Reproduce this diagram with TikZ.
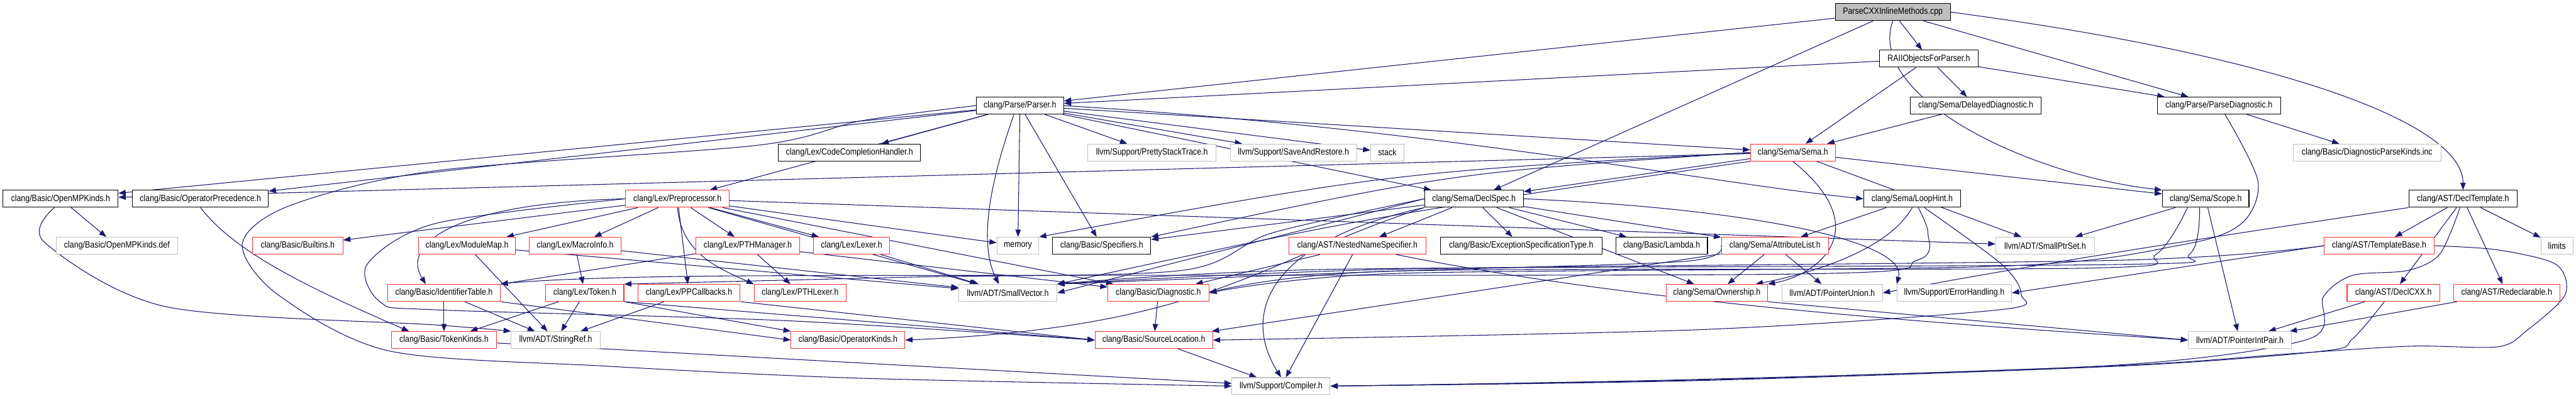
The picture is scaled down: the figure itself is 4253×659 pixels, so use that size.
\documentclass[tikz,border=0pt]{standalone}
\usepackage{fontspec}
\setmainfont{Liberation Sans}[FakeStretch=0.86]
\usetikzlibrary{arrows.meta,backgrounds}
\definecolor{dxblue}{HTML}{191970}
\definecolor{dxred}{HTML}{FF3030}
\definecolor{dxgray}{HTML}{BFBFBF}
\tikzset{
  nb/.style={draw, line width=1.1pt, minimum height=28pt, inner sep=1pt, fill=white, font=\fontsize{15}{18}\selectfont, anchor=center},
  blackbox/.style={nb, draw=black},
  redbox/.style={nb, draw=dxred},
  graybox/.style={nb, draw=dxgray},
  rootbox/.style={nb, draw=black, fill=dxgray},
  e/.style={draw=dxblue, line width=1.1pt, -{Triangle[length=12pt, width=9pt]}},
}
\begin{document}
\begin{tikzpicture}[x=1pt,y=-1pt]
\useasboundingbox (0,0) rectangle (4253,659);
% row 0-2
\node[rootbox, minimum width=190pt] (root) at (3125,20) {ParseCXXInlineMethods.cpp};
\node[blackbox, minimum width=163pt] (raii) at (3184.5,97) {RAIIObjectsForParser.h};
\node[blackbox, minimum width=144pt] (parser) at (1684,174.5) {clang/Parse/Parser.h};
\node[blackbox, minimum width=216pt] (delayed) at (3262,174.5) {clang/Sema/DelayedDiagnostic.h};
\node[blackbox, minimum width=203pt] (parsediag) at (3663.5,174.5) {clang/Parse/ParseDiagnostic.h};
% row 3
\node[blackbox, minimum width=235pt] (cch) at (1402.5,252) {clang/Lex/CodeCompletionHandler.h};
\node[graybox, minimum width=212pt] (pst) at (1902,252) {llvm/Support/PrettyStackTrace.h};
\node[graybox, minimum width=209pt] (sar) at (2135.5,252) {llvm/Support/SaveAndRestore.h};
\node[graybox, minimum width=55pt] (stack) at (2290.5,252) {stack};
\node[redbox, minimum width=140pt] (sema) at (2960,252) {clang/Sema/Sema.h};
\node[graybox, minimum width=244pt] (dpk) at (3908,252) {clang/Basic/DiagnosticParseKinds.inc};
% row 4
\node[blackbox, minimum width=190pt] (omp) at (100,328.5) {clang/Basic/OpenMPKinds.h};
\node[blackbox, minimum width=224pt] (opprec) at (331,328.5) {clang/Basic/OperatorPrecedence.h};
\node[redbox, minimum width=171pt] (pp) at (1118.5,328.5) {clang/Lex/Preprocessor.h};
\node[blackbox, minimum width=163pt] (declspec) at (2433.5,328.5) {clang/Sema/DeclSpec.h};
\node[blackbox, minimum width=160pt] (loophint) at (3157,328.5) {clang/Sema/LoopHint.h};
\node[blackbox, minimum width=143pt] (scope) at (3641.5,328.5) {clang/Sema/Scope.h};
\node[blackbox, minimum width=179pt] (decltempl) at (4066.5,328.5) {clang/AST/DeclTemplate.h};
% row 5
\node[graybox, minimum width=200pt] (ompdef) at (193,406) {clang/Basic/OpenMPKinds.def};
\node[redbox, minimum width=149pt] (builtins) at (491.5,406) {clang/Basic/Builtins.h};
\node[redbox, minimum width=160pt] (modmap) at (771,406) {clang/Lex/ModuleMap.h};
\node[redbox, minimum width=151pt] (macroinfo) at (949.5,406) {clang/Lex/MacroInfo.h};
\node[redbox, minimum width=171pt] (pthmgr) at (1234.5,406) {clang/Lex/PTHManager.h};
\node[redbox, minimum width=126pt] (lexer) at (1406,406) {clang/Lex/Lexer.h};
\node[graybox, minimum width=69pt] (memory) at (1680.5,406) {memory};
\node[blackbox, minimum width=162pt] (specifiers) at (1819,406) {clang/Basic/Specifiers.h};
\node[redbox, minimum width=226pt] (nns) at (2241,406) {clang/AST/NestedNameSpecifier.h};
\node[blackbox, minimum width=267pt] (est) at (2511.5,406) {clang/Basic/ExceptionSpecificationType.h};
\node[blackbox, minimum width=151pt] (lambda) at (2743.5,406) {clang/Basic/Lambda.h};
\node[redbox, minimum width=177pt] (attrlist) at (2930.5,406) {clang/Sema/AttributeList.h};
\node[graybox, minimum width=163pt] (smallptrset) at (3376.5,406) {llvm/ADT/SmallPtrSet.h};
\node[redbox, minimum width=182pt] (templbase) at (3928,406) {clang/AST/TemplateBase.h};
\node[graybox, minimum width=53pt] (limits) at (4221.5,406) {limits};
% row 6
\node[redbox, minimum width=186pt] (identtab) at (733,484) {clang/Basic/IdentifierTable.h};
\node[redbox, minimum width=129pt] (token) at (965.5,484) {clang/Lex/Token.h};
\node[redbox, minimum width=169pt] (ppcb) at (1137.5,484) {clang/Lex/PPCallbacks.h};
\node[redbox, minimum width=152pt] (pthlexer) at (1321,484) {clang/Lex/PTHLexer.h};
\node[graybox, minimum width=162pt] (smallvec) at (1664,484) {llvm/ADT/SmallVector.h};
\node[redbox, minimum width=167pt] (diag) at (1912.5,484) {clang/Basic/Diagnostic.h};
\node[redbox, minimum width=167pt] (ownership) at (2834.5,484) {clang/Sema/Ownership.h};
\node[graybox, minimum width=166pt] (ptrunion) at (3025,484) {llvm/ADT/PointerUnion.h};
\node[graybox, minimum width=189pt] (errh) at (3226.5,484) {llvm/Support/ErrorHandling.h};
\node[redbox, minimum width=153pt] (declcxx) at (3951.5,484) {clang/AST/DeclCXX.h};
\node[redbox, minimum width=175pt] (redecl) at (4138.5,484) {clang/AST/Redeclarable.h};
% row 7-8
\node[redbox, minimum width=174pt] (tokkinds) at (733,562) {clang/Basic/TokenKinds.h};
\node[graybox, minimum width=147pt] (stringref) at (917.5,562) {llvm/ADT/StringRef.h};
\node[redbox, minimum width=188pt] (opkinds) at (1400,562) {clang/Basic/OperatorKinds.h};
\node[redbox, minimum width=194pt] (srcloc) at (1905,562) {clang/Basic/SourceLocation.h};
\node[graybox, minimum width=170pt] (ptrintpair) at (3698,562) {llvm/ADT/PointerIntPair.h};
\node[graybox, minimum width=162pt] (compiler) at (2115,638) {llvm/Support/Compiler.h};

\begin{pgfonlayer}{background}
\fill[white] (0,0) rectangle (4253,659);
% root
\draw[e] (root) -- (parser);
\draw[e] (root) -- (raii);
\draw[e] (root) -- (parsediag);
\draw[e] (root) -- (declspec);
\draw[e] (root.south) .. controls (3080,160) and (3350,290) .. (scope.north west);
\draw[e] (root.east) .. controls (3750,90) and (4066,200) .. (decltempl.north);
% raii
\draw[e] (raii) -- (parser);
\draw[e] (raii) -- (sema);
\draw[e] (raii) -- (delayed);
\draw[e] (raii) -- (parsediag);
\draw[e] (delayed) -- (sema);
% parsediag
\draw[e] (parsediag) -- (dpk);
\draw[e] plot[smooth] coordinates {([xshift=10pt]parsediag.south) (3728,300) (3700,370) (3600,405) (3300,440) (2300,452) (diag.east)};
% parser
\draw[e] (parser) -- (omp);
\draw[e] (parser) -- (opprec);
\draw[e] (parser) -- (cch);
\draw[e] (parser) -- (pp);
\draw[e] ([xshift=-10pt]parser.south) .. controls (1635,300) and (1615,400) .. ([xshift=-15pt]smallvec.north);
\draw[e] (parser) -- (memory);
\draw[e] (parser) -- (specifiers);
\draw[e] (parser) -- (pst);
\draw[e] (parser) -- (sar);
\draw[e] (parser) -- (stack);
\draw[e] (parser) -- (sema);
\draw[e] (parser) -- (declspec);
\draw[e] (parser.east) .. controls (2400,215) and (2800,300) .. (loophint.west);
\draw[e] plot[smooth] coordinates {(parser.west) (1420,200) (1251,240) (720,282) (478,340) (400,403) (459,487) (643,580) (1000,605) (1420,625) (compiler.west)};
% sema
\draw[e] (sema) -- (omp);
\draw[e] (sema.west) .. controls (2300,285) .. (memory.north east);
\draw[e] (sema.west) .. controls (2400,285) .. (specifiers.north east);
\draw[e] (sema) -- (declspec);
\draw[e] (sema) -- (scope);
\draw[e] (sema) -- (smallptrset);
\draw[e] (sema.south west) .. controls (2250,360) .. (smallvec.north east);
\draw[e] (sema.south) .. controls (3100,380) and (3000,455) .. (ownership.north east);
% declspec
\draw[e] (declspec) -- (nns);
\draw[e] (declspec) -- (est);
\draw[e] (declspec) -- (lambda);
\draw[e] (declspec) -- (specifiers);
\draw[e] (declspec) -- (attrlist);
\draw[e] (declspec) -- (ownership);
\draw[e] (declspec.west) -- (smallvec.east);
\draw[e] plot[smooth] coordinates {(declspec.west) (2100,385) (1950,447) (1500,458) (token.north east)};
\draw[e] (declspec.south west) .. controls (2080,430) and (2000,540) .. (opkinds.east);
\draw[e] (declspec.south west) .. controls (2090,400) and (2050,520) .. (compiler.north);
\draw[e] (declspec.east) .. controls (2900,345) and (3150,400) .. (errh.north west);
% loophint
\draw[e] (loophint) -- (attrlist);
\draw[e] (loophint.south) .. controls (3120,410) and (3000,450) .. ([xshift=-20pt]ownership.north east);
\draw[e] plot[smooth] coordinates {([xshift=10pt]loophint.south) (3183,385) (3165,430) (2950,453) (1200,456) (identtab.north east)};
\draw[e] plot[smooth] coordinates {([xshift=20pt]loophint.south) (3305,437) (3337,487) (3300,512) (2800,545) (srcloc.east)};
% scope
\draw[e] (scope) -- (ptrintpair);
\draw[e] (scope) -- (smallptrset);
\draw[e] plot[smooth] coordinates {([xshift=-10pt]scope.south) (3615,420) (3500,437) (2200,445) (smallvec.north east)};
\draw[e] plot[smooth] coordinates {([xshift=-30pt]scope.south) (3560,420) (3450,443) (2300,448) (diag.east)};
% decltempl
\draw[e] (decltempl) -- (templbase);
\draw[e] (decltempl) -- (declcxx);
\draw[e] (decltempl) -- (redecl);
\draw[e] (decltempl) -- (limits);
\draw[e] (decltempl.south west) .. controls (3800,370) and (3450,420) .. (ptrunion.east);
\draw[e] plot[smooth] coordinates {([xshift=-5pt]decltempl.south) (4028,420) (3975,447) (3884,455) (3836,490) (3812,560) (3500,603) (2800,627) (compiler.east)};
% templbase
\draw[e] (templbase.west) -- (errh.east);
\draw[e] plot[smooth] coordinates {(templbase.west) (3500,430) (2300,445) (smallvec.north east)};
\draw[e] plot[smooth] coordinates {(templbase.east) (4124,413) (4220,437) (4235,487) (4172,546) (4124,573) (3980,572) (3788,584) (3500,604) (2800,628) (compiler.east)};
% declcxx, redecl
\draw[e] (declcxx) -- (ptrintpair);
\draw[e] plot[smooth] coordinates {([xshift=-15pt]declcxx.south) (3884,560) (3836,580) (3500,605) (2800,629) (compiler.east)};
\draw[e] (redecl) -- (ptrintpair);
% nns
\draw[e] (nns) -- (diag);
\draw[e] (nns) -- (compiler);
\draw[e] ([xshift=-50pt]nns.south east) .. controls (2700,500) and (3200,535) .. (ptrintpair.west);
% attrlist
\draw[e] (attrlist) -- (ownership);
\draw[e] (attrlist) -- (ptrunion);
\draw[e] (attrlist) -- (srcloc);
\draw[e] plot[smooth] coordinates {(attrlist.west) (2780,432) (2300,448) (smallvec.north east)};
% preprocessor
\draw[e] (pp) -- (builtins);
\draw[e] (pp.west) .. controls (760,335) and (660,400) .. ([xshift=-30pt]identtab.north);
\draw[e] plot[smooth] coordinates {(pp.west) (720,369) (606,437) (629,500) (720,512) (1300,530) (srcloc.west)};
\draw[e] (pp) -- (modmap);
\draw[e] (pp) -- (macroinfo);
\draw[e] (pp) -- (ppcb);
\draw[e] (pp.south) .. controls (1125,420) and (1190,445) .. (pthlexer.north west);
\draw[e] (pp) -- (pthmgr);
\draw[e] (pp) -- (lexer);
\draw[e] (pp) -- (memory);
\draw[e] (pp) -- (smallvec);
\draw[e] (pp) -- (diag);
\draw[e] (pp) -- (smallptrset);
% others
\draw[e] (omp) -- (ompdef);
\draw[e] plot[smooth] coordinates {([xshift=-10pt]omp.south) (73,400) (275,507) (720,537) (stringref.north west)};
\draw[e] (opprec.south) .. controls (390,420) and (520,480) .. ([xshift=30pt]tokkinds.north west);
\draw[e] (modmap) -- (stringref);
\draw[e] (modmap) -- (smallvec);
\draw[e] (macroinfo) -- (token);
\draw[e] (macroinfo) -- (smallvec);
\draw[e] (pthmgr) -- (pthlexer);
\draw[e] (pthmgr) -- (identtab);
\draw[e] (pthmgr) -- (diag);
\draw[e] (lexer) -- (smallvec);
\draw[e] (identtab) -- (tokkinds);
\draw[e] (identtab) -- (stringref);
\draw[e] (identtab.south east) -- (opkinds.west);
\draw[e] (token) -- (tokkinds);
\draw[e] (token) -- (stringref);
\draw[e] (token.south east) -- (opkinds.north west);
\draw[e] (token.south east) -- (srcloc.west);
\draw[e] (ppcb) -- (stringref);
\draw[e] (ppcb.south east) -- (srcloc.west);
\draw[e] (diag) -- (srcloc);
\draw[e] (srcloc) -- (compiler);
\draw[e] (tokkinds) -- (compiler);
\draw[e] (ownership.south east) -- (ptrintpair.west);
\end{pgfonlayer}
\end{tikzpicture}
\end{document}
